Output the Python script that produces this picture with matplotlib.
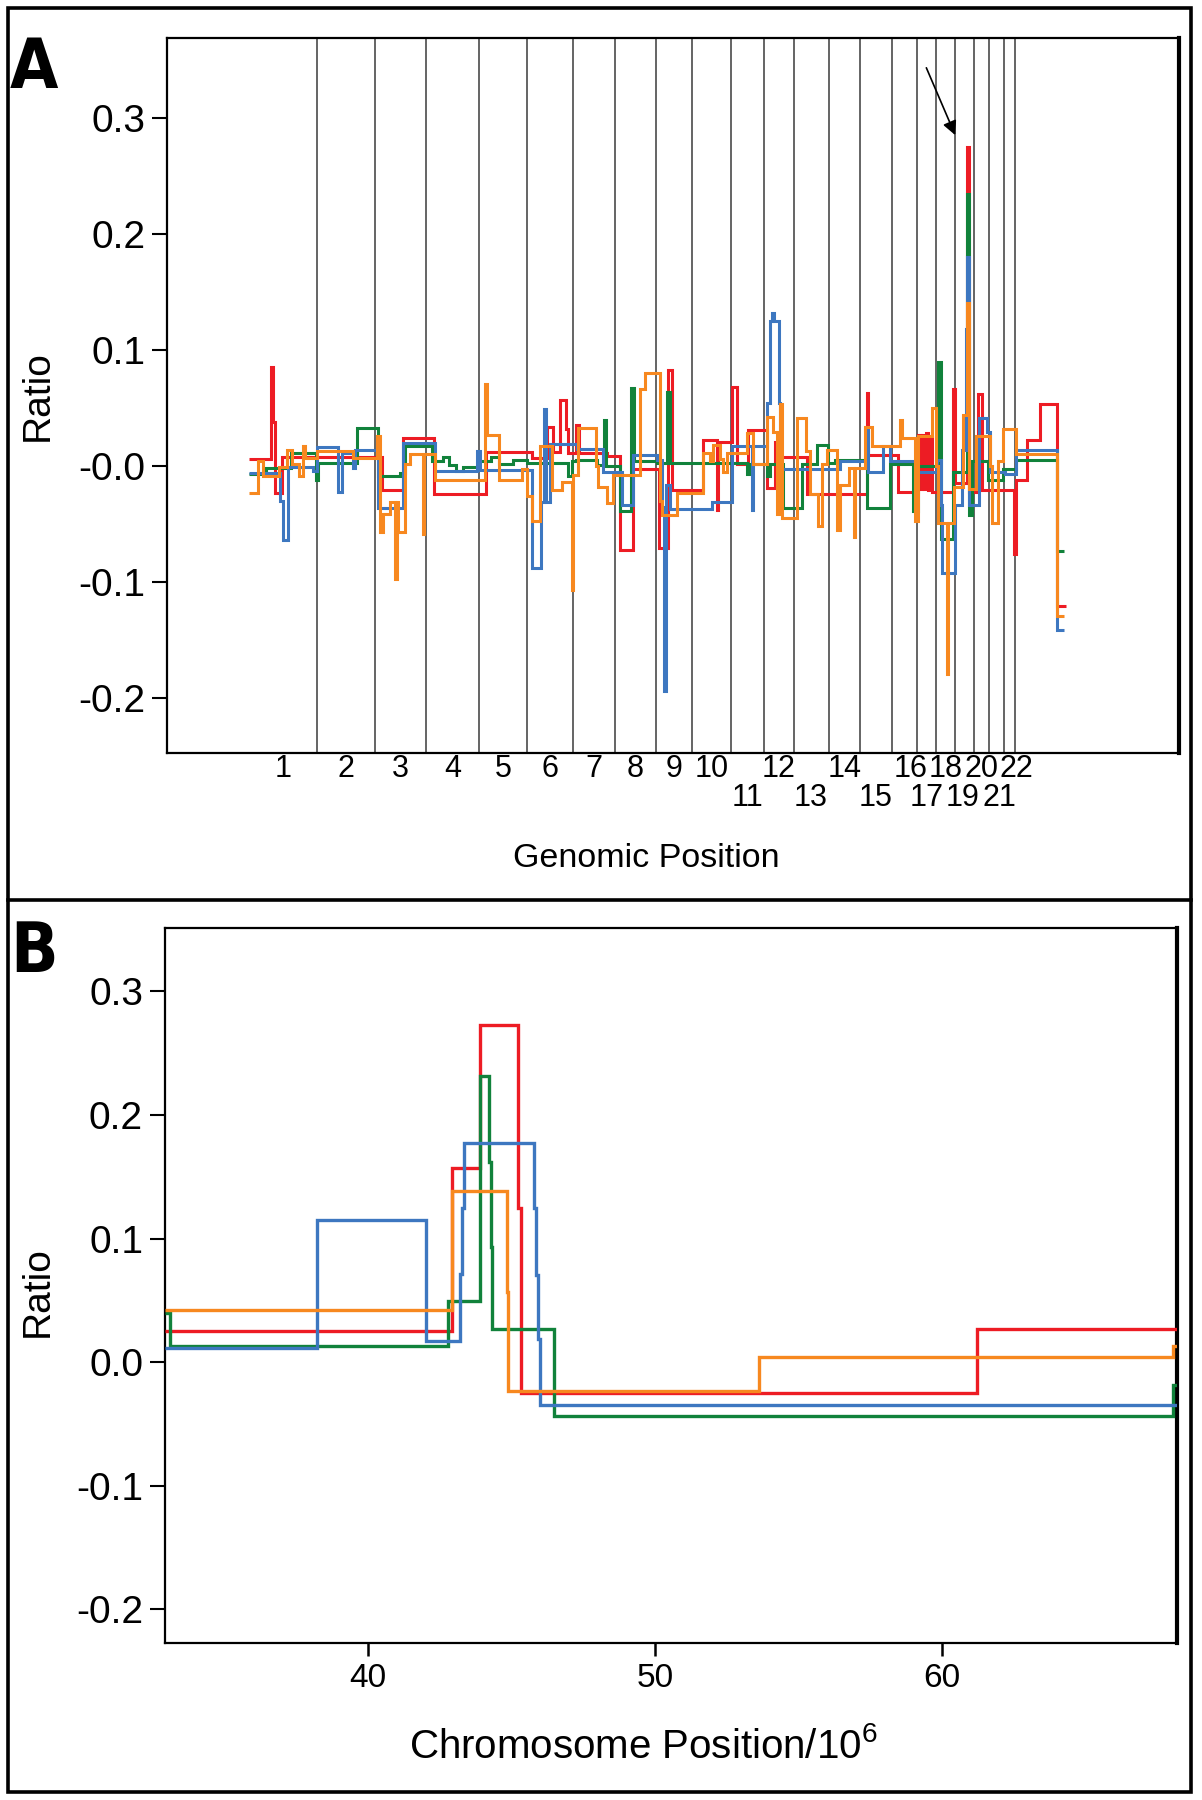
import matplotlib
matplotlib.use("Agg")
import matplotlib.pyplot as plt
from matplotlib import font_manager
from matplotlib.font_manager import FontProperties
from matplotlib.patches import Rectangle

# ---------------- data ----------------
# panel A: genomic position (Mb, cumulative), chromosome boundaries
chrom_bounds = [247, 454, 639, 827, 1002, 1168, 1317, 1466, 1594, 1736, 1853,
                1961, 2087, 2199, 2314, 2404, 2474, 2542, 2610, 2665, 2717, 2757]
chrom_names = [str(i) for i in range(1, 23)]

# segment edges / segment means for each sample (panel A)
red_edges = [0, 78, 86, 93, 120, 478, 556, 665, 855, 1018, 1072, 1096, 1120, 1140,
             1150, 1178, 1188, 1288, 1336, 1384, 1478, 1508, 1522, 1636, 1684, 1690,
             1738, 1756, 1798, 1864, 1894, 1912, 2008, 2224, 2230, 2338, 2410, 2418,
             2424, 2432, 2438, 2446, 2452, 2458, 2534, 2542, 2584, 2592, 2626, 2638,
             2756, 2760, 2800, 2848, 2908, 2940]
red_vals = [0.006, 0.085, 0.038, -0.023, 0.008, -0.021, 0.024, -0.024, 0.012, 0.007,
            0.034, 0.012, 0.057, 0.032, 0.011, 0.035, 0.0115, 0.009, -0.072, -0.003,
            -0.071, 0.083, -0.021, 0.022, -0.038, 0.021, 0.068, 0.002, 0.031, -0.019,
            0.021, 0.008, -0.024, 0.063, 0.0095, -0.022, 0.027, -0.020, 0.027, -0.020,
            0.028, -0.021, 0.025, -0.022, 0.066, -0.015, 0.275, -0.022, 0.062, -0.021,
            -0.076, -0.012, 0.022, 0.053, -0.121]

green_edges = [0, 60, 150, 240, 250, 388, 466, 544, 562, 658, 700, 720, 745, 770, 830,
               870, 900, 950, 1000, 1150, 1165, 1178, 1255, 1280, 1286, 1336, 1376,
               1386, 1468, 1504, 1516, 1792, 1804, 1864, 1876, 1924, 1990, 2044, 2086,
               2110, 2224, 2308, 2392, 2408, 2482, 2490, 2536, 2584, 2592, 2602, 2662,
               2716, 2760, 2908, 2934]
green_vals = [-0.007, -0.002, 0.011, -0.012, 0.0023, 0.033, -0.009, -0.006, 0.017, 0.004,
              0.0075, 0.001, -0.004, -0.0006, 0.004, 0.0075, 0.002, 0.005, 0.0023, -0.009,
              0.004, 0.005, 0.0006, 0.040, 0.0003, -0.039, 0.067, 0.004, 0.003, 0.064,
              0.0023, -0.007, 0.002, -0.009, 0.002, -0.036, 0.002, 0.018, 0.003, 0.005,
              -0.036, 0.002, -0.039, 0.000, 0.090, -0.063, -0.005, 0.234, -0.042, 0.004,
              -0.012, -0.003, 0.005, -0.073]

blue_edges = [0, 112, 124, 142, 232, 247, 322, 334, 376, 382, 466, 556, 670, 820, 832,
              1018, 1051, 1062, 1068, 1084, 1180, 1276, 1342, 1384, 1470, 1486, 1496,
              1502, 1516, 1666, 1738, 1810, 1816, 1864, 1876, 1882, 1890, 1908, 1912,
              2128, 2224, 2228, 2284, 2308, 2400, 2476, 2490, 2496, 2542, 2568, 2580,
              2584, 2592, 2630, 2658, 2668, 2722, 2760, 2908, 2934]
blue_vals = [-0.006, -0.030, -0.064, -0.001, -0.004, 0.016, -0.022, 0.011, -0.002, 0.014,
             -0.036, 0.0195, -0.004, 0.013, -0.0035, -0.088, -0.031, 0.049, -0.031, 0.019,
             0.015, -0.005, -0.034, 0.0095, 0.005, -0.035, -0.194, -0.016, -0.037, -0.031,
             0.017, -0.038, 0.017, 0.054, 0.125, 0.132, 0.125, 0.054, -0.003, 0.004,
             0.034, -0.005, 0.017, 0.004, -0.005, 0.005, -0.034, -0.092, -0.034, 0.014,
             0.118, 0.180, -0.034, 0.041, 0.029, -0.005, -0.007, 0.014, -0.141]

orange_edges = [0, 34, 52, 110, 136, 154, 182, 196, 202, 247, 376, 460, 472, 484, 508,
                526, 532, 538, 562, 580, 626, 630, 670, 850, 856, 902, 982, 1000, 1018,
                1048, 1090, 1126, 1162, 1168, 1186, 1250, 1258, 1288, 1312, 1408, 1426,
                1480, 1486, 1540, 1636, 1660, 1672, 1696, 1708, 1720, 1792, 1816, 1864,
                1888, 1902, 1912, 1920, 1972, 2006, 2020, 2050, 2062, 2080, 2116, 2128,
                2160, 2178, 2182, 2218, 2242, 2344, 2350, 2398, 2410, 2458, 2474, 2482,
                2512, 2518, 2540, 2572, 2584, 2592, 2618, 2668, 2674, 2698, 2716, 2760,
                2908, 2934]
orange_vals = [-0.0235, 0.004, -0.009, -0.0006, 0.014, 0.002, -0.009, 0.017, 0.0066, 0.013,
               0.0066, 0.026, -0.057, -0.041, -0.031, -0.097, -0.031, -0.057, 0.002, 0.010,
               -0.059, 0.010, -0.012, 0.071, 0.027, -0.012, -0.003, -0.026, -0.047, 0.017,
               -0.021, -0.014, -0.107, -0.008, 0.033, 0.000, -0.018, -0.032, -0.008, 0.066,
               0.080, -0.030, -0.042, -0.023, 0.011, 0.004, 0.018, 0.006, -0.005, 0.011,
               0.028, 0.002, 0.042, 0.029, -0.041, 0.053, -0.045, 0.041, 0.013, -0.024,
               -0.052, 0.002, 0.014, -0.055, -0.016, -0.002, -0.061, -0.002, 0.034, 0.017,
               0.040, 0.024, -0.047, 0.026, 0.050, 0.000, -0.049, -0.179, -0.049, -0.018,
               0.044, 0.140, -0.020, 0.026, 0.000, -0.049, 0.004, 0.032, 0.010, -0.129]

# panel B: chromosome position / 1e6
red_b_edges = [32.9, 42.91, 43.88, 45.23, 45.31, 61.2, 68.2]
red_b_vals = [0.0253, 0.157, 0.273, 0.125, -0.0245, 0.0269]
green_b_edges = [32.9, 33.1, 42.77, 43.91, 44.19, 44.28, 44.32, 46.47, 68.05, 68.2]
green_b_vals = [0.040, 0.0134, 0.0498, 0.232, 0.162, 0.093, 0.0267, -0.0434, -0.018]
blue_b_edges = [32.9, 38.2, 42.0, 43.18, 43.27, 43.33, 45.79, 45.85, 45.93, 45.99, 68.2]
blue_b_vals = [0.0113, 0.115, 0.0172, 0.0712, 0.1246, 0.1777, 0.125, 0.071, 0.0186, -0.0345]
orange_b_edges = [32.9, 42.93, 44.83, 44.87, 53.6, 68.05, 68.2]
orange_b_vals = [0.0423, 0.1386, 0.057, -0.023, 0.0045, 0.013]

ratio_ticks = [-0.2, -0.1, 0.0, 0.1, 0.2, 0.3]
ratio_labels_a = ["-0.2", "-0.1", "-0.0", "0.1", "0.2", "0.3"]
ratio_labels_b = ["-0.2", "-0.1", "0.0", "0.1", "0.2", "0.3"]
pos_ticks_b = [40, 50, 60]

RED, GREEN, BLUE, ORANGE = "#ED1C24", "#11823B", "#3D77C0", "#F7881F"

# ---------------- fonts ----------------
FONT = "Liberation Sans"
plt.rcParams["font.family"] = [FONT, "DejaVu Sans"]
plt.rcParams["mathtext.fontset"] = "custom"
plt.rcParams["mathtext.rm"] = FONT
plt.rcParams["mathtext.it"] = FONT + ":italic"
plt.rcParams["mathtext.bf"] = FONT + ":bold"

# the panel letters are set in a condensed bold face; use one if there is one
panel_prop = FontProperties(family=FONT, weight="bold", size=46)
for f in font_manager.fontManager.ttflist:
    narrow = ("Narrow" in f.name or "Condensed" in f.name
              or f.stretch in ("condensed", "semi-condensed", "extra-condensed"))
    if narrow and f.weight in ("bold", 700) and "Mono" not in f.name:
        panel_prop = FontProperties(fname=f.fname, size=50)
        break

fig = plt.figure(figsize=(12.02, 18.0), dpi=100)
axA = fig.add_axes([0.1391, 0.5815, 0.8414, 0.3976])
axB = fig.add_axes([0.1369, 0.0871, 0.8427, 0.3975])


def style_axes(ax):
    for side in ["left", "top", "bottom"]:
        ax.spines[side].set_linewidth(1.6)
    ax.spines["right"].set_linewidth(3.0)
    ax.tick_params(axis="y", direction="out", length=10.5, width=1.5,
                   labelsize=28, pad=5)


# ---------------- panel A ----------------
series_a = [(red_edges, red_vals, RED), (green_edges, green_vals, GREEN),
            (blue_edges, blue_vals, BLUE), (orange_edges, orange_vals, ORANGE)]
for z, (edges, vals, col) in enumerate(series_a):
    assert len(edges) == len(vals) + 1
    axA.stairs(vals, edges, baseline=None, color=col, lw=2.2, zorder=3 + z)

for b in chrom_bounds:
    axA.axvline(b, color="#3a3a3a", lw=1.1, zorder=2)

axA.set_xlim(-294, 3347)
axA.set_ylim(-0.2475, 0.369)
axA.set_yticks(ratio_ticks)
axA.set_yticklabels(ratio_labels_a)
axA.set_xticks([])
style_axes(axA)

# crowded labels at the small chromosomes are nudged apart a little
label_nudge = {"16": 25, "19": -8, "21": 12, "22": 25}
starts = [0] + chrom_bounds[:-1]
for i, name in enumerate(chrom_names):
    mid = (starts[i] + chrom_bounds[i]) / 2 + label_nudge.get(name, 0)
    num = i + 1
    ypos = -0.062 if (num >= 11 and num % 2 == 1) else -0.022
    axA.text(mid, ypos, name, transform=axA.get_xaxis_transform(),
             ha="center", va="center", fontsize=22)

axA.annotate("", xy=(2543, 0.285), xytext=(2439, 0.343),
             arrowprops=dict(arrowstyle="-|>,head_length=0.6,head_width=0.3",
                             color="black", lw=1.2, mutation_scale=14,
                             shrinkA=0, shrinkB=0))

# ---------------- panel B ----------------
series_b = [(red_b_edges, red_b_vals, RED), (green_b_edges, green_b_vals, GREEN),
            (blue_b_edges, blue_b_vals, BLUE), (orange_b_edges, orange_b_vals, ORANGE)]
for z, (edges, vals, col) in enumerate(series_b):
    assert len(edges) == len(vals) + 1
    axB.stairs(vals, edges, baseline=None, color=col, lw=2.4, zorder=3 + z)

axB.set_xlim(32.9, 68.2)
axB.set_ylim(-0.2273, 0.3516)
axB.set_yticks(ratio_ticks)
axB.set_yticklabels(ratio_labels_b)
axB.set_xticks(pos_ticks_b)
axB.set_xticklabels([str(t) for t in pos_ticks_b])
style_axes(axB)
axB.tick_params(axis="x", direction="out", length=9.5, width=1.8, labelsize=24, pad=5)

# ---------------- labels and frame ----------------
fig.text(0.0316, 0.780, "Ratio", rotation=90, ha="center", va="center", fontsize=28)
fig.text(0.0316, 0.2825, "Ratio", rotation=90, ha="center", va="center", fontsize=28)
fig.text(0.5374, 0.5228, "Genomic Position", ha="center", va="center", fontsize=24.5)
fig.text(0.535, 0.0296, "Chromosome Position/10$^{6}$", ha="center", va="center",
         fontsize=29)
fig.text(0.0283, 0.9617, "A", ha="center", va="center", fontproperties=panel_prop)
fig.text(0.0283, 0.4706, "B", ha="center", va="center", fontproperties=panel_prop)

fig.add_artist(Rectangle((0.0063, 0.0046), 0.9848, 0.9908, transform=fig.transFigure,
                         fill=False, edgecolor="black", lw=2.6))
fig.add_artist(plt.Line2D([0.0063, 0.9911], [0.5, 0.5], transform=fig.transFigure,
                          color="black", lw=2.6))

fig.savefig("out.png", dpi=100)
